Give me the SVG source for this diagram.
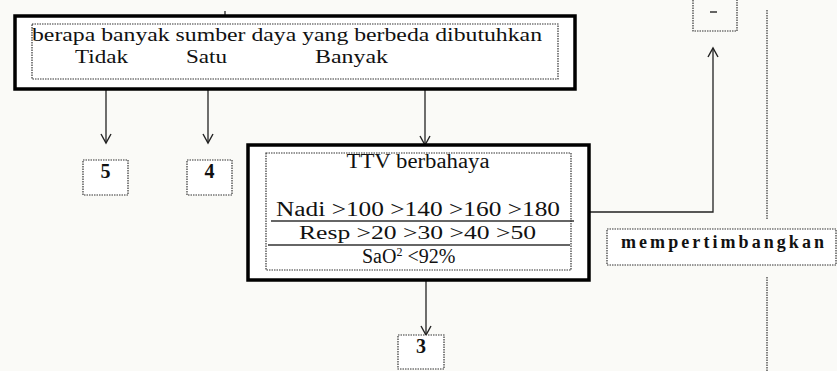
<svg xmlns="http://www.w3.org/2000/svg" width="837" height="371" viewBox="0 0 837 371">
<style>
.bg{fill:#fafaf7}
.thick{fill:#fff;stroke:#000;stroke-width:3.5}
.dot{fill:none;stroke:#333;stroke-width:1.2;stroke-dasharray:1.5 1}
.dotw{fill:#fff;stroke:#333;stroke-width:1.2;stroke-dasharray:1.5 1}
.ln{fill:none;stroke:#222;stroke-width:1.3}
.sep{stroke:#333;stroke-width:1.3}
.t{font-family:"Liberation Serif","Times New Roman",serif;fill:#111}
.b{font-family:"Liberation Serif","Times New Roman",serif;font-weight:bold;fill:#111}
</style>
<defs>
<marker id="ah" markerWidth="12" markerHeight="12" refX="10" refY="6" orient="auto" markerUnits="userSpaceOnUse" viewBox="0 0 12 12">
<path d="M1,1 L10,6 L1,11" fill="none" stroke="#222" stroke-width="1.4"/>
</marker>
</defs>
<rect class="bg" x="0" y="0" width="837" height="371"/>

<g id="connectors">
<line class="ln" x1="225" y1="11" x2="225" y2="15"/>
<line class="ln" x1="106" y1="89" x2="106" y2="143" marker-end="url(#ah)"/>
<line class="ln" x1="208" y1="89" x2="208" y2="143" marker-end="url(#ah)"/>
<line class="ln" x1="425" y1="89" x2="425" y2="145" marker-end="url(#ah)"/>
<polyline class="ln" points="590,212 713,212 713,48" marker-end="url(#ah)"/>
<line class="ln" x1="426" y1="280" x2="426" y2="335" marker-end="url(#ah)"/>
<line class="dot" x1="767" y1="10" x2="767" y2="220"/>
<line class="dot" x1="767" y1="277" x2="767" y2="371"/>
</g>

<g id="node-question">
<rect class="thick" x="15" y="16" width="560" height="73"/>
<rect class="dot" x="32" y="24" width="526" height="55"/>
<text class="t" x="32" y="41" font-size="19" textLength="510" lengthAdjust="spacingAndGlyphs">berapa banyak sumber daya yang berbeda dibutuhkan</text>
<text class="t" x="75" y="63" font-size="19" textLength="53" lengthAdjust="spacingAndGlyphs">Tidak</text>
<text class="t" x="186" y="63" font-size="19" textLength="41" lengthAdjust="spacingAndGlyphs">Satu</text>
<text class="t" x="315" y="63" font-size="19" textLength="73" lengthAdjust="spacingAndGlyphs">Banyak</text>
</g>

<g id="node-5">
<rect class="dotw" x="83" y="160" width="45" height="35"/>
<text class="b" x="105.5" y="178" font-size="20" text-anchor="middle">5</text>
</g>

<g id="node-4">
<rect class="dotw" x="187" y="160" width="45" height="35"/>
<text class="b" x="209.5" y="178" font-size="20" text-anchor="middle">4</text>
</g>

<g id="node-ttv">
<rect class="thick" x="248" y="145" width="341" height="135"/>
<rect class="dot" x="266" y="153" width="305" height="117"/>
<text class="t" x="418" y="168" font-size="20" text-anchor="middle" textLength="143" lengthAdjust="spacingAndGlyphs">TTV berbahaya</text>
<text class="t" x="276" y="216" font-size="20" textLength="284" lengthAdjust="spacingAndGlyphs">Nadi &gt;100  &gt;140  &gt;160  &gt;180</text>
<line class="sep" x1="271" y1="221" x2="574" y2="221"/>
<text class="t" x="299" y="239" font-size="19" textLength="237" lengthAdjust="spacingAndGlyphs">Resp &gt;20  &gt;30  &gt;40  &gt;50</text>
<line class="sep" x1="268" y1="245" x2="570" y2="245"/>
<text class="t" x="362" y="263" font-size="20">SaO<tspan font-size="12" dy="-7">2</tspan><tspan dy="7"> &lt;92%</tspan></text>
</g>

<g id="node-top-right">
<path class="dot" d="M693,0 L693,31 L737,31 L737,0"/>
<line x1="710" y1="12" x2="717" y2="12" stroke="#333" stroke-width="1.5"/>
</g>

<g id="node-mempertimbangkan">
<rect class="dotw" x="607" y="229" width="229" height="36"/>
<text class="b" x="621" y="248" font-size="18" textLength="203" lengthAdjust="spacing">mempertimbangkan</text>
</g>

<g id="node-3">
<rect class="dotw" x="398" y="335" width="46" height="34"/>
<text class="b" x="421" y="353" font-size="20" text-anchor="middle">3</text>
</g>
</svg>
